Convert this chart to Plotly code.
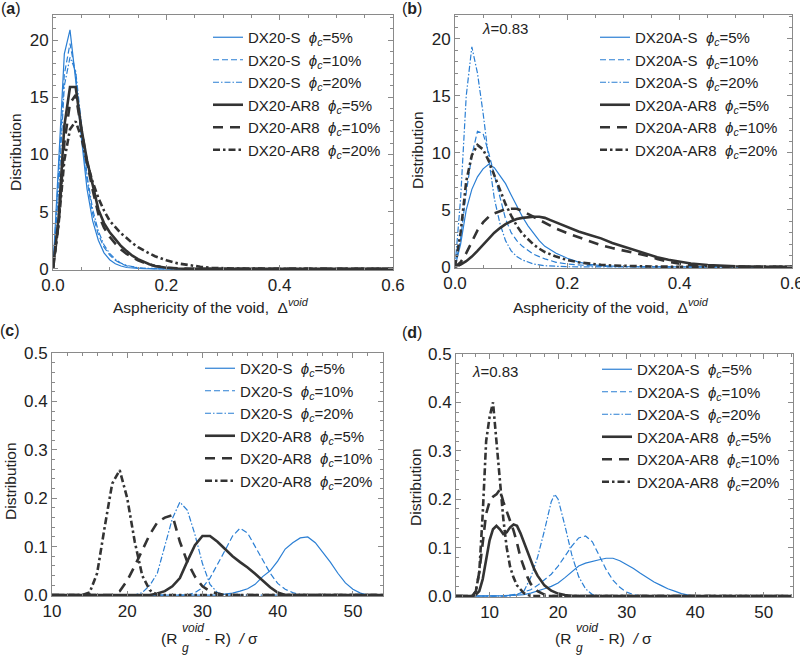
import plotly.graph_objects as go

# ---------------- data ----------------
# Panel (a): DX20, asphericity
A_S5_X = [0, 0.01, 0.02, 0.03, 0.04, 0.05, 0.06, 0.07, 0.08, 0.09, 0.10, 0.11, 0.12, 0.13, 0.14, 0.15, 0.16, 0.18, 0.6]
A_S5_Y = [0, 9, 18.8, 20.9, 16.5, 11.5, 7.0, 4.2, 2.5, 1.4, 0.8, 0.45, 0.25, 0.12, 0.06, 0.03, 0.01, 0, 0]
A_S10_X = [0, 0.01, 0.02, 0.03, 0.04, 0.05, 0.06, 0.07, 0.08, 0.09, 0.10, 0.11, 0.12, 0.13, 0.14, 0.15, 0.16, 0.18, 0.2, 0.6]
A_S10_Y = [0, 8, 17, 19.7, 17, 12, 7.8, 4.8, 3.0, 1.9, 1.2, 0.75, 0.45, 0.26, 0.15, 0.08, 0.04, 0.01, 0, 0]
A_S20_X = [0, 0.01, 0.02, 0.03, 0.04, 0.05, 0.06, 0.07, 0.08, 0.09, 0.10, 0.11, 0.12, 0.13, 0.14, 0.15, 0.16, 0.18, 0.2, 0.6]
A_S20_Y = [0, 7, 16, 18.5, 17.3, 12.5, 8.2, 5.2, 3.3, 2.1, 1.35, 0.85, 0.5, 0.3, 0.18, 0.1, 0.05, 0.015, 0, 0]
A_AR5_X = [0, 0.01, 0.02, 0.03, 0.04, 0.05, 0.06, 0.07, 0.08, 0.09, 0.10, 0.11, 0.12, 0.13, 0.14, 0.15, 0.16, 0.17, 0.18, 0.2, 0.22, 0.24, 0.6]
A_AR5_Y = [0, 4.5, 12.5, 15.9, 15.9, 12.3, 9.5, 7.2, 5.2, 4.0, 3.2, 2.6, 2.0, 1.55, 1.15, 0.85, 0.6, 0.4, 0.25, 0.1, 0.03, 0, 0]
A_AR10_X = [0, 0.01, 0.02, 0.03, 0.04, 0.05, 0.06, 0.07, 0.08, 0.09, 0.10, 0.11, 0.12, 0.13, 0.14, 0.15, 0.16, 0.17, 0.18, 0.2, 0.22, 0.24, 0.6]
A_AR10_Y = [0, 4, 11, 14.5, 15.2, 12.2, 9.3, 6.9, 4.8, 3.6, 2.8, 2.2, 1.7, 1.3, 1.0, 0.75, 0.55, 0.38, 0.25, 0.1, 0.04, 0, 0]
A_AR20_X = [0, 0.01, 0.02, 0.03, 0.04, 0.05, 0.06, 0.07, 0.08, 0.09, 0.10, 0.11, 0.12, 0.13, 0.14, 0.15, 0.16, 0.17, 0.18,
            0.2, 0.22, 0.24, 0.26, 0.28, 0.3, 0.32, 0.6]
A_AR20_Y = [0, 4, 9.5, 12.2, 12.9, 11.5, 9.3, 7.6, 6.2, 5.1, 4.2, 3.6, 3.1, 2.7, 2.25, 1.9, 1.6, 1.35, 1.1,
            0.75, 0.48, 0.3, 0.18, 0.1, 0.05, 0.02, 0]

# Panel (b): DX20A, asphericity
B_S5_X = [0, 0.01, 0.02, 0.03, 0.04, 0.05, 0.06, 0.07, 0.08, 0.09, 0.10, 0.11, 0.12, 0.13, 0.14, 0.15, 0.16,
          0.18, 0.2, 0.22, 0.24, 0.26, 0.3, 0.35, 0.6]
B_S5_Y = [0, 2, 5, 6.8, 7.9, 8.6, 9.0, 8.7, 8.0, 7.3, 6.3, 5.3, 4.4, 3.6, 2.9, 2.3, 1.8,
          1.2, 0.75, 0.42, 0.22, 0.11, 0.03, 0, 0]
B_S10_X = [0, 0.01, 0.02, 0.03, 0.04, 0.05, 0.06, 0.07, 0.08, 0.09, 0.10, 0.11, 0.12,
           0.14, 0.16, 0.18, 0.2, 0.22, 0.25, 0.3, 0.35, 0.6]
B_S10_Y = [0, 2.5, 6.5, 9.8, 11.9, 11.7, 10, 8, 6, 4.2, 3.0, 2.3, 1.8,
           1.1, 0.7, 0.4, 0.25, 0.15, 0.06, 0.01, 0, 0]
B_S20_X = [0, 0.01, 0.02, 0.03, 0.04, 0.05, 0.06, 0.07, 0.08, 0.09, 0.10, 0.11, 0.12,
           0.14, 0.16, 0.18, 0.2, 0.25, 0.6]
B_S20_Y = [0, 6, 15, 19.3, 17, 13.5, 9.5, 6.0, 3.8, 2.3, 1.4, 0.9, 0.6,
           0.25, 0.1, 0.04, 0.01, 0, 0]
B_AR5_X = [0, 0.01, 0.02, 0.03, 0.04, 0.05, 0.06, 0.07, 0.08, 0.09, 0.10, 0.11, 0.12, 0.13, 0.14, 0.15, 0.16, 0.17,
           0.18, 0.19, 0.2, 0.22, 0.24, 0.26, 0.28, 0.3, 0.32, 0.34, 0.36, 0.38, 0.4, 0.42, 0.45, 0.5, 0.55, 0.6]
B_AR5_Y = [0, 0.2, 0.5, 0.9, 1.4, 1.95, 2.5, 3.0, 3.4, 3.75, 4.0, 4.2, 4.3, 4.38, 4.4, 4.4, 4.3, 4.1,
           3.9, 3.7, 3.45, 3.1, 2.8, 2.5, 2.1, 1.8, 1.45, 1.15, 0.85, 0.62, 0.45, 0.3, 0.16, 0.05, 0.01, 0]
B_AR10_X = [0, 0.01, 0.02, 0.03, 0.04, 0.05, 0.06, 0.07, 0.08, 0.09, 0.10, 0.11, 0.12, 0.13, 0.14, 0.15, 0.16,
            0.18, 0.2, 0.22, 0.24, 0.26, 0.28, 0.3, 0.32, 0.34, 0.36, 0.38, 0.4, 0.42, 0.45, 0.5, 0.55, 0.6]
B_AR10_Y = [0, 0.4, 1.2, 2.2, 3.2, 3.9, 4.4, 4.7, 4.9, 5.05, 5.1, 5.1, 4.9, 4.65, 4.4, 4.1, 3.85,
            3.35, 2.95, 2.6, 2.2, 1.9, 1.65, 1.45, 1.25, 1.0, 0.7, 0.45, 0.28, 0.16, 0.06, 0.01, 0, 0]
B_AR20_X = [0, 0.01, 0.02, 0.03, 0.04, 0.05, 0.06, 0.07, 0.08, 0.09, 0.10, 0.11, 0.12, 0.13, 0.14, 0.15, 0.16,
            0.18, 0.2, 0.22, 0.24, 0.26, 0.28, 0.3, 0.35, 0.4, 0.45, 0.6]
B_AR20_Y = [0, 3, 7.5, 9.8, 10.7, 10.3, 9.3, 8.0, 6.7, 5.5, 4.5, 3.6, 2.9, 2.4, 1.95, 1.6, 1.3,
            0.9, 0.6, 0.4, 0.27, 0.18, 0.12, 0.08, 0.03, 0.01, 0, 0]

# Panel (c): DX20, (Rg_void - R)/sigma
C_S5_X = [10, 32, 33, 34, 35, 36, 37, 38, 39, 40, 41, 42, 43, 44, 45, 46, 47, 48, 49, 50, 51, 52, 54]
C_S5_Y = [0, 0, 0.002, 0.004, 0.008, 0.013, 0.022, 0.038, 0.05, 0.07, 0.095, 0.108, 0.118, 0.12, 0.108,
          0.088, 0.068, 0.045, 0.025, 0.012, 0.004, 0, 0]
C_S10_X = [10, 28, 29, 30, 31, 32, 33, 34, 35, 36, 37, 38, 39, 40, 41, 42, 43, 44, 54]
C_S10_Y = [0, 0, 0.005, 0.015, 0.035, 0.062, 0.092, 0.122, 0.138, 0.128, 0.1, 0.072, 0.045, 0.024,
           0.012, 0.005, 0.001, 0, 0]
C_S20_X = [10, 21, 22, 23, 24, 25, 26, 27, 28, 29, 30, 31, 32, 33, 54]
C_S20_Y = [0, 0, 0.005, 0.02, 0.045, 0.1, 0.158, 0.192, 0.175, 0.125, 0.065, 0.022, 0.005, 0, 0]
C_AR5_X = [10, 23, 24, 25, 26, 27, 28, 29, 30, 31, 32, 33, 34, 35, 36, 37, 38, 39, 40, 41, 54]
C_AR5_Y = [0, 0, 0.003, 0.008, 0.018, 0.035, 0.07, 0.103, 0.122, 0.122, 0.11, 0.095, 0.08, 0.068,
           0.057, 0.044, 0.03, 0.016, 0.005, 0, 0]
C_AR10_X = [10, 18, 19, 20, 21, 22, 23, 24, 25, 26, 27, 28, 29, 30, 31, 32, 33, 54]
C_AR10_Y = [0, 0, 0.008, 0.03, 0.06, 0.092, 0.125, 0.15, 0.16, 0.165, 0.11, 0.068, 0.038, 0.018,
            0.008, 0.003, 0, 0]
C_AR20_X = [10, 14, 15, 16, 17, 18, 19, 20, 21, 22, 23, 24, 54]
C_AR20_Y = [0, 0, 0.005, 0.045, 0.14, 0.23, 0.258, 0.2, 0.11, 0.04, 0.01, 0, 0]

# Panel (d): DX20A, (Rg_void - R)/sigma
D_S5_X = [5, 10, 12, 14, 15, 16, 17, 18, 19, 20, 21, 22, 23, 24, 25, 26, 27, 28, 29, 30, 31, 32, 33, 34,
          35, 36, 37, 38, 39, 40, 54]
D_S5_Y = [0, 0, 0.001, 0.002, 0.003, 0.006, 0.01, 0.015, 0.02, 0.027, 0.038, 0.05, 0.062, 0.068, 0.072,
          0.075, 0.078, 0.078, 0.073, 0.065, 0.057, 0.047, 0.038, 0.029, 0.022, 0.015, 0.01, 0.005, 0.002, 0, 0]
D_S10_X = [5, 12, 14, 15, 16, 17, 18, 19, 20, 21, 22, 23, 24, 25, 26, 27, 28, 29, 30, 31, 32, 54]
D_S10_Y = [0, 0, 0.004, 0.008, 0.013, 0.022, 0.033, 0.045, 0.062, 0.082, 0.103, 0.12, 0.124, 0.112,
           0.085, 0.055, 0.033, 0.018, 0.008, 0.003, 0, 0]
D_S20_X = [5, 13, 14, 15, 16, 17, 18, 19, 19.5, 20, 21, 22, 23, 24, 25, 26, 54]
D_S20_Y = [0, 0, 0.003, 0.01, 0.038, 0.08, 0.135, 0.195, 0.21, 0.2, 0.145, 0.085, 0.04, 0.015, 0.003, 0, 0]
D_AR5_X = [5, 7.5, 8, 8.5, 9, 9.5, 10, 10.5, 11, 11.5, 12, 12.5, 13, 13.5, 14, 14.5, 15, 15.5, 16, 16.5,
           17, 17.5, 18, 19, 20, 21, 22, 54]
D_AR5_Y = [0, 0, 0.003, 0.01, 0.035, 0.075, 0.115, 0.138, 0.145, 0.138, 0.128, 0.132, 0.142, 0.148,
           0.145, 0.13, 0.112, 0.092, 0.072, 0.056, 0.042, 0.031, 0.022, 0.011, 0.005, 0.002, 0, 0]
D_AR10_X = [5, 7.5, 8, 8.5, 9, 9.5, 10, 10.5, 11, 11.5, 12, 12.5, 13, 13.5, 14, 14.5, 15, 15.5, 16,
            17, 18, 19, 54]
D_AR10_Y = [0, 0, 0.01, 0.05, 0.11, 0.17, 0.195, 0.205, 0.21, 0.22, 0.195, 0.175, 0.155, 0.135, 0.11,
            0.08, 0.06, 0.04, 0.025, 0.01, 0.003, 0, 0]
D_AR20_X = [5, 7.5, 8, 8.5, 9, 9.5, 10, 10.5, 11, 11.5, 12, 12.5, 13, 13.5, 14, 15, 16, 54]
D_AR20_Y = [0, 0, 0.01, 0.05, 0.17, 0.32, 0.37, 0.40, 0.32, 0.24, 0.16, 0.1, 0.06, 0.038, 0.022, 0.006, 0, 0]

PHI_LABELS = ["5%", "10%", "20%"]
ASPH_TICKS = [0.0, 0.2, 0.4, 0.6]

# ---------------- styling ----------------
BLUE = "#2b7fd4"
BLACK = "#333333"
FONT = "Liberation Sans, Arial, sans-serif"
NB = "\u00a0"
TICK_SIZE = 17
TITLE_SIZE = 15.5

STYLES = [
    dict(color=BLUE, width=1.2, dash="solid"),
    dict(color=BLUE, width=1.2, dash="6px,3px"),
    dict(color=BLUE, width=1.2, dash="6px,2px,1.5px,2px"),
    dict(color=BLACK, width=2.6, dash="solid"),
    dict(color=BLACK, width=2.6, dash="10px,7px"),
    dict(color=BLACK, width=2.6, dash="7px,3px,2.5px,3px"),
]

panels = [
    ("DX20", [(A_S5_X, A_S5_Y), (A_S10_X, A_S10_Y), (A_S20_X, A_S20_Y),
              (A_AR5_X, A_AR5_Y), (A_AR10_X, A_AR10_Y), (A_AR20_X, A_AR20_Y)]),
    ("DX20A", [(B_S5_X, B_S5_Y), (B_S10_X, B_S10_Y), (B_S20_X, B_S20_Y),
               (B_AR5_X, B_AR5_Y), (B_AR10_X, B_AR10_Y), (B_AR20_X, B_AR20_Y)]),
    ("DX20", [(C_S5_X, C_S5_Y), (C_S10_X, C_S10_Y), (C_S20_X, C_S20_Y),
              (C_AR5_X, C_AR5_Y), (C_AR10_X, C_AR10_Y), (C_AR20_X, C_AR20_Y)]),
    ("DX20A", [(D_S5_X, D_S5_Y), (D_S10_X, D_S10_Y), (D_S20_X, D_S20_Y),
               (D_AR5_X, D_AR5_Y), (D_AR10_X, D_AR10_Y), (D_AR20_X, D_AR20_Y)]),
]

fig = go.Figure()
for p, (prefix, series) in enumerate(panels, start=1):
    for k, (xs, ys) in enumerate(series):
        kind = "S" if k < 3 else "AR8"
        phi = PHI_LABELS[k % 3]
        name = f"{prefix}-{kind}{NB}{NB}<i>ϕ<sub>c</sub></i>={phi}"
        fig.add_trace(go.Scatter(
            x=xs, y=ys, mode="lines", name=name, line=STYLES[k],
            xaxis=f"x{p if p > 1 else ''}", yaxis=f"y{p if p > 1 else ''}",
            legend="legend" if p == 1 else f"legend{p}",
        ))

W, H = 800.0, 656.0


def px_x(v):
    return v / W


def px_y(v):
    return 1 - v / H


axis_common = dict(
    showline=True, linecolor="#8a8a8a", linewidth=1, mirror="ticks",
    ticks="inside", ticklen=5, tickwidth=1, tickcolor="#8a8a8a",
    showgrid=False, zeroline=False, automargin=False, ticklabeloverflow="allow",
    tickfont=dict(family=FONT, size=TICK_SIZE, color="#222222"),
)


def minor(d):
    return dict(ticks="inside", ticklen=3, tickwidth=1, tickcolor="#8a8a8a", dtick=d, showgrid=False)


layout = dict(
    width=800, height=656, margin=dict(l=0, r=0, t=0, b=0),
    paper_bgcolor="white", plot_bgcolor="white",
    font=dict(family=FONT, size=14, color="#222222"),
    xaxis=dict(domain=[px_x(53), px_x(393)], anchor="y", range=[0, 0.6], tickmode="array",
               tickvals=ASPH_TICKS, ticktext=[f"{v:.1f}" for v in ASPH_TICKS],
               minor=minor(0.05), **axis_common),
    yaxis=dict(domain=[px_y(270), px_y(15)], anchor="x", range=[-0.1, 22.2], tick0=0, dtick=5,
               minor=minor(1), **axis_common),
    xaxis2=dict(domain=[px_x(455), px_x(792)], anchor="y2", range=[0, 0.6], tickmode="array",
                tickvals=ASPH_TICKS, ticktext=[f"{v:.1f}" for v in ASPH_TICKS],
                minor=minor(0.05), **axis_common),
    yaxis2=dict(domain=[px_y(268), px_y(15)], anchor="x2", range=[-0.1, 22.1], tick0=0, dtick=5,
                minor=minor(1), **axis_common),
    xaxis3=dict(domain=[px_x(52), px_x(383)], anchor="y3", range=[10, 54], dtick=10,
                minor=minor(2), **axis_common),
    yaxis3=dict(domain=[px_y(596), px_y(353)], anchor="x3", range=[-0.002, 0.5], tick0=0, dtick=0.1,
                tickformat=".1f", minor=minor(0.02), **axis_common),
    xaxis4=dict(domain=[px_x(456), px_x(792.5)], anchor="y4", range=[5.1, 54.2], tick0=0, dtick=10,
                minor=minor(2), **axis_common),
    yaxis4=dict(domain=[px_y(597), px_y(354)], anchor="x4", range=[-0.002, 0.5], tick0=0, dtick=0.1,
                tickformat=".1f", minor=minor(0.02), **axis_common),
)

legend_pos = {1: (208, 21), 2: (595, 21), 3: (200, 352), 4: (597, 353)}
for p, (lx, ly) in legend_pos.items():
    key = "legend" if p == 1 else f"legend{p}"
    layout[key] = dict(
        x=px_x(lx), y=px_y(ly), xanchor="left", yanchor="top",
        bgcolor="rgba(0,0,0,0)", borderwidth=0,
        font=dict(family=FONT, size=15, color="#222222"),
        itemwidth=30,
    )

fig.update_layout(**layout)

ann = []


def add_text(text, x, y, size=TITLE_SIZE, xanchor="center", yanchor="middle", textangle=0):
    ann.append(dict(text=text, x=px_x(x), y=px_y(y), xref="paper", yref="paper", showarrow=False,
                    xanchor=xanchor, yanchor=yanchor, textangle=textangle,
                    font=dict(family=FONT, size=size, color="#222222")))


# panel labels
add_text("(<b>a</b>)", 11, 9, size=16)
add_text("(<b>b</b>)", 412, 9, size=16)
add_text("(<b>c</b>)", 10, 331, size=16)
add_text("(<b>d</b>)", 412, 332, size=16)

# lambda labels
add_text("<i>λ</i>=0.83", 505, 29, size=15)
add_text("<i>λ</i>=0.83", 495, 371, size=15)

# y titles
add_text("Distribution", 15, 152, textangle=-90)
add_text("Distribution", 417, 150, textangle=-90)
add_text("Distribution", 10, 481, textangle=-90)
add_text("Distribution", 415, 487, textangle=-90)

# x titles (top)
xt = f"Asphericity of the void,{NB}{NB}Δ<sup><i>void</i></sup>"
add_text(xt, 211, 306)
add_text(xt, 611, 306)

# x titles (bottom), composed so that the sub- and superscript stack
for ox in (0, 394):
    add_text("(R", 179 + ox, 638, xanchor="right")
    add_text("<i>void</i>", 180 + ox, 628, size=12, xanchor="left")
    add_text("<i>g</i>", 180 + ox, 648, size=12, xanchor="left")
    add_text(f"-{NB}R){NB}{NB}<i>/</i>{NB}σ", 203 + ox, 638, xanchor="left")

fig.update_layout(annotations=ann)

fig.write_html(
    "out.html",
    config={"displayModeBar": False},
    post_script="document.body.style.margin='0px';document.body.style.overflow='hidden';",
)
